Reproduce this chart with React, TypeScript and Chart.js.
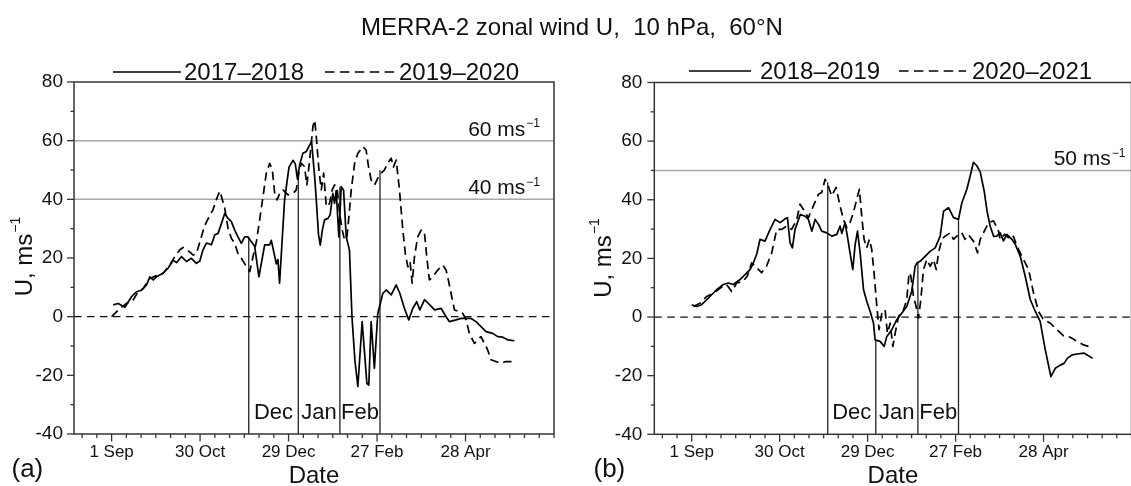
import React, { useEffect, useRef } from 'react';
import { Chart, registerables } from 'chart.js';

Chart.register(...registerables);

const FONT = '"Liberation Sans", Arial, Helvetica, sans-serif';
Chart.defaults.font.family = FONT;

type Pt = [number, number];

// ---------- shared axis data (x = days since 1 September) ----------
const chartTitle = 'MERRA-2 zonal wind U,  10 hPa,  60°N';
const xTickDays = [0, 60, 120, 180, 240];
const xTickLabels = ['1 Sep', '30 Oct', '29 Dec', '27 Feb', '28 Apr'];
const yTickValues = [-40, -20, 0, 20, 40, 60, 80];
const monthNames = ['Dec', 'Jan', 'Feb'];
const xAxisTitle = 'Date';
const yAxisTitle = 'U, ms';
const unitSup = '−1';

// ---------- panel (a) ----------
const aSolidLabel = '2017–2018';
const aSolid: Pt[] = [
  [1.1, 4], [4.5, 4.5], [9, 3.2], [13.5, 6.8], [16.9, 8.5], [20.3, 9], [23.7, 10.8], [25.9, 13.6],
  [28.2, 12.5], [30.4, 13.6], [34.9, 14.8], [38.3, 16.5], [41.7, 19.3], [44, 18.4], [47.4, 20.5],
  [50.8, 18.8], [54.1, 19.9], [57.5, 18.2], [59.8, 19], [62, 22.8], [64.3, 25.1], [67.7, 24.5],
  [70, 27.9], [72.2, 28.4], [74.5, 31.8], [76.7, 35.2], [79, 33.5], [81.2, 32.4], [83.5, 29.5],
  [85.7, 27.2], [88, 25], [90.2, 27.2], [92.5, 27.2], [94.8, 25.5], [97, 24], [99.9, 13.6],
  [103.8, 24.5], [107.2, 24.5], [108.3, 26], [111.7, 18], [112.8, 19.5], [113.9, 11.4],
  [117.3, 39.8], [120.3, 51], [123, 53.3], [124.6, 52], [126, 47], [127.5, 51.7], [129.7, 55.7],
  [132, 56.3], [134.3, 58.5], [135.6, 59.7], [137.7, 47.6], [138.8, 39.8], [140.3, 28],
  [141.5, 24.4], [142.9, 29.5], [144.4, 33], [146.7, 33.5], [148.2, 34.7], [150, 42], [151.2, 38.6],
  [152.3, 43], [154.1, 27.2], [155.7, 44.3], [157.3, 43.2], [159.1, 27.2], [160.2, 25], [161.3, 22.7],
  [163, 0], [165, -15], [167, -23.8], [169.9, -1.7], [173.1, -22.7], [174.4, -23.3], [176, -1.7],
  [178.2, -17.6], [180.5, 1.1], [183.9, 7.9], [186.2, 9.1], [189.6, 7.4], [193, 10.8], [195.5, 7.9],
  [198.6, 2.8], [201.5, -1.1], [204.2, 2.8], [206.9, 5.1], [209, 2.3], [212.2, 5.8], [215.6, 4.1],
  [219, 2.3], [223.5, 2.8], [226.8, 0], [229.1, -1.7], [233.6, -1.1], [237, -0.6], [240.4, -0.6],
  [243.8, -0.6], [247.1, -1.7], [250.5, -3.4], [253.9, -5.1], [258.4, -5.7], [261.8, -6.8],
  [265.2, -7], [268.6, -7.9], [273.1, -8.2],
];
const aDashLabel = '2019–2020';
const aDash: Pt[] = [
  [0, 0], [2.3, 1.1], [5.6, 2.8], [10.1, 4.5], [14.6, 5.7], [18, 8.5], [21.4, 9.6], [25.9, 13],
  [30.4, 14], [34.9, 14.8], [39.5, 17.6], [42.9, 20.5], [46.3, 22.8], [48.5, 23.6], [53, 22.1],
  [55.3, 21], [57.5, 21.5], [59.8, 25.4], [63.2, 31.2], [66.6, 34.5], [68.8, 36.5], [71.1, 40],
  [73.3, 42.8], [74.5, 41], [76.7, 37], [79, 30], [81.2, 26.7], [83.5, 25], [85.7, 21.5], [88, 19.9],
  [91.4, 17.1], [93.7, 15.4], [95.9, 20.5], [98.2, 25.6], [100.4, 33], [102.7, 41], [104.9, 48.9],
  [107.2, 52.3], [109, 50], [110.6, 42], [112.2, 39.8], [114, 42], [116.2, 43.2], [119.6, 41.5],
  [123, 42], [125.2, 43.2], [127, 48.9], [128.6, 52.3], [130.8, 51.2], [132.4, 44.9], [134.3, 53.4],
  [136.5, 64.8], [137.7, 67], [138.8, 61.4], [140.6, 50], [142.2, 43.2], [143.8, 48.9], [145.6, 37.5],
  [147.8, 38.6], [149.6, 43.2], [151.2, 44.9], [152.8, 44.3], [154.6, 35.2], [156.4, 29.5], [158, 26.1],
  [159.6, 27.2], [160.9, 34], [162.5, 43.2], [164.8, 52.3], [167, 55.7], [170.4, 58], [172.6, 56.8],
  [174.2, 51.2], [176, 46.6], [178.3, 44.9], [180.5, 47.2], [182.8, 48.9], [185, 50], [187.3, 52.3],
  [189.6, 54], [191.1, 51], [193, 53.4], [195.2, 43.2], [197.5, 29.5], [199.3, 21], [200.9, 17],
  [202.4, 18.8], [203.8, 11.4], [205.4, 20.5], [207.6, 27.2], [209.9, 29.5], [212.1, 28.9],
  [213.8, 20], [215.5, 12.5], [217.8, 13.6], [221.2, 15.9], [224.5, 17.6], [226.8, 15.9], [227.9, 13.6],
  [230.2, 7.9], [232.5, 2.3], [235.8, 1.7], [238.1, 1.1], [240.4, -1.1], [242.6, -5.7], [246, -9.1],
  [248.3, -7.9], [250.5, -6.8], [252.8, -9.1], [255, -11.3], [257.2, -14.7], [260.6, -15.3],
  [264, -15.9], [267.3, -15.3], [273, -15.3],
];
const aMonthLineDays = [93, 126.6, 154.8, 182];
const aMonthLineTops = [27, 50, 44.3, 50];
const aRefLines = [60, 40];

// ---------- panel (b) ----------
const bSolidLabel = '2018–2019';
const bSolid: Pt[] = [
  [0, 4.2], [3.4, 3.6], [6.8, 4.2], [10.2, 5.9], [13.6, 7.6], [17, 9.3], [21.6, 11.1], [25, 11.6],
  [28.4, 11.1], [33, 12.8], [36.4, 14.5], [39.8, 16.2], [42.1, 18.5], [44.4, 21.5], [46.6, 26.5],
  [50, 25.9], [53.5, 29.9], [56.9, 33.3], [60.3, 32.2], [63.7, 33.5], [65.3, 33.9], [67.1, 25.4],
  [68.7, 23.6], [70.5, 29.9], [74.1, 35], [77.4, 34.4], [79.6, 33.3], [82, 29.3], [84.2, 33.3],
  [86.5, 31.6], [88.7, 29.3], [92.1, 28.7], [95.6, 27.6], [99, 28.2], [101.2, 31], [102.4, 28.5],
  [104.6, 32.2], [106.2, 27.6], [108, 21.9], [109.9, 16.2], [111.5, 24.7], [113.1, 29.3], [114.9, 21.9],
  [117.2, 9.4], [119.4, 5.4], [121.7, 2], [124, -2], [125.1, -7.8], [128.5, -8.3], [131.3, -10],
  [133.1, -6.6], [136.5, -4.3], [139.9, -0.9], [143.3, 1.3], [146.7, 3.6], [150.1, 8.8], [152.4, 17.3],
  [153.6, 18.4], [155.8, 19], [159.2, 20.7], [162.6, 22.4], [166.1, 23.6], [169.5, 27.6], [171.8, 36.1],
  [175.2, 37.3], [178.6, 33.9], [182, 33.3], [184.3, 39], [187.7, 43.6], [190, 48.2], [192.2, 52.8],
  [194.5, 51.6], [196.8, 49.5], [199.5, 43], [201.5, 36], [203.6, 31], [206, 27.5], [208.1, 27.6],
  [210.4, 28.7], [212.7, 26], [215, 28.2], [218.4, 26.5], [220.7, 24.8], [224.1, 20.8], [227.5, 13.9],
  [231, 5.9], [234.4, 1.9], [237.7, -1.5], [241.2, -11.2], [245, -20.3], [248, -17.5], [251.4, -16.4],
  [254, -15.8], [256.2, -14.1], [259.5, -12.9], [263, -12.6], [267.5, -12.3], [270, -13], [273.5, -14.1],
];
const bDashLabel = '2020–2021';
const bDash: Pt[] = [
  [1.1, 3.6], [5.7, 4.7], [10.2, 7], [14.8, 8.1], [19.3, 9.8], [23.8, 11.1], [27.3, 8.7], [30.7, 11.6],
  [35.2, 12.2], [38, 14], [40.9, 18.5], [44.4, 16.8], [47.7, 15.1], [51.1, 17.4], [54.6, 21.9],
  [58, 29.9], [61.4, 29.9], [64.8, 31], [68.2, 29.9], [71.7, 33.3], [73.9, 38.5], [76.2, 36.7],
  [79.6, 33.9], [83, 37.9], [86.5, 41.9], [88.7, 42.5], [91, 47], [93.2, 44.7], [95.5, 41.3],
  [98.5, 44.2], [101.2, 37.9], [103.5, 33.3], [105.8, 30.5], [108, 32.2], [110.3, 35.6], [112.6, 40.2],
  [114.4, 43.6], [116, 34.4], [117.6, 26.5], [119.4, 23.6], [121.2, 26.5], [122.8, 23.1], [124.4, 15.1],
  [126.3, 3.6], [127.8, -4.3], [129.7, 1.3], [131.9, 2.5], [133.5, -5.5], [135.4, -2.1], [137.2, -10],
  [138.8, -5.5], [141.1, 0.2], [144.5, 2.5], [146.7, 5.9], [148.3, 15.1], [149.5, 14], [151.3, 7],
  [153.1, 3.6], [154.7, -0.4], [156.3, 5.9], [158.1, 16.2], [160.4, 19.6], [162.7, 17.3], [164.9, 19.6],
  [166.8, 16.2], [168.4, 21.9], [170.6, 26.5], [172.9, 27.6], [176.3, 28.7], [178.6, 26.5], [182, 28.2],
  [184.3, 28.7], [186.5, 26.5], [188.8, 28], [192.2, 25.9], [195, 21.9], [196.8, 26.5], [199, 28.7],
  [202.5, 32.2], [205.9, 32.8], [209.3, 29.3], [210.4, 26.5], [213.5, 28.2], [217.2, 26.5], [219.5, 27.5],
  [221.8, 24.2], [224.1, 21.9], [226.4, 19.6], [229.8, 16.2], [233.2, 8.2], [236.6, 1.9], [240, -0.9],
  [244.6, -2.1], [249.1, -4.3], [253.7, -6.4], [258.2, -6.9], [262.8, -8.3], [267.3, -9.5], [270.7, -10],
  [271.9, -10.3],
];
const bMonthLineDays = [92.8, 125.6, 154.3, 182];
const bMonthLineTops = [46, -8, 18.5, 33];
const bRefLines = [50];

// ---------- layout / style (pixels) ----------
interface PanelData {
  solid: Pt[]; dash: Pt[]; solidLabel: string; dashLabel: string;
  monthDays: number[]; monthTops: number[]; refLines: number[]; letter: string;
}
interface PanelStyle {
  canvasWidth: number;
  padding: { left: number; top: number; right: number; bottom: number };
  yAxisWidth: number; xAxisHeight: number; yLabelPad: number;
  legendLineY: number; legendTextY: number;
  solidSample: [number, number]; solidTextX: number;
  dashSample: [number, number]; dashTextX: number;
  yTitleX: number; yTitleY: number; letterX: number; refInset: number;
  drawTitle: boolean;
}

const panelA: PanelData = {
  solid: aSolid, dash: aDash, solidLabel: aSolidLabel, dashLabel: aDashLabel,
  monthDays: aMonthLineDays, monthTops: aMonthLineTops, refLines: aRefLines, letter: '(a)',
};
const panelB: PanelData = {
  solid: bSolid, dash: bDash, solidLabel: bSolidLabel, dashLabel: bDashLabel,
  monthDays: bMonthLineDays, monthTops: bMonthLineTops, refLines: bRefLines, letter: '(b)',
};

const styleA: PanelStyle = {
  canvasWidth: 1131,
  padding: { left: 0, top: 82, right: 577, bottom: 0 },
  yAxisWidth: 74, xAxisHeight: 52, yLabelPad: 11,
  legendLineY: 72, legendTextY: 79.5,
  solidSample: [113, 181], solidTextX: 184,
  dashSample: [325, 394], dashTextX: 399,
  yTitleX: 31.7, yTitleY: 256.5, letterX: 11.5, refInset: 14, drawTitle: true,
};
const styleB: PanelStyle = {
  canvasWidth: 1136,
  padding: { left: 564.3, top: 82.5, right: 4.5, bottom: 0 },
  yAxisWidth: 90, xAxisHeight: 51.7, yLabelPad: 12,
  legendLineY: 71, legendTextY: 79,
  solidSample: [689, 751], solidTextX: 760,
  dashSample: [899, 966], dashTextX: 972,
  yTitleX: 611, yTitleY: 258, letterX: 593.5, refInset: 6, drawTitle: false,
};

const X_MIN = -25.5;
const X_MAX = 300;
const Y_MIN = -40;
const Y_MAX = 80;
const DASH = [8.5, 5];
const FRAME = '#353535';

function supText(
  ctx: CanvasRenderingContext2D, main: string, sup: string, x: number, y: number,
  size: number, supSize: number, raise: number, align: 'left' | 'right' | 'center',
) {
  ctx.font = `${size}px ${FONT}`;
  const w1 = ctx.measureText(main).width;
  ctx.font = `${supSize}px ${FONT}`;
  const w2 = ctx.measureText(sup).width;
  const gap = 1;
  const total = w1 + gap + w2;
  const sx = align === 'right' ? x - total : align === 'center' ? x - total / 2 : x;
  ctx.textAlign = 'left';
  ctx.textBaseline = 'alphabetic';
  ctx.font = `${size}px ${FONT}`;
  ctx.fillText(main, sx, y);
  ctx.font = `${supSize}px ${FONT}`;
  ctx.fillText(sup, sx + w1 + gap, y - raise);
}

function line(ctx: CanvasRenderingContext2D, x1: number, y1: number, x2: number, y2: number) {
  ctx.beginPath();
  ctx.moveTo(x1, y1);
  ctx.lineTo(x2, y2);
  ctx.stroke();
}

function makePlugin(p: PanelData, st: PanelStyle) {
  return {
    id: 'deco',
    beforeDatasetsDraw(chart: any) {
      const ctx: CanvasRenderingContext2D = chart.ctx;
      const { left, right, bottom } = chart.chartArea;
      const xs = chart.scales.x;
      const ys = chart.scales.y;
      ctx.save();
      ctx.strokeStyle = '#a8a8a8';
      ctx.lineWidth = 1.5;
      p.refLines.forEach((v) => {
        const y = ys.getPixelForValue(v);
        line(ctx, left, y, right, y);
      });
      ctx.strokeStyle = '#111';
      ctx.lineWidth = 1.3;
      ctx.setLineDash([7.5, 5.5]);
      const y0 = ys.getPixelForValue(0);
      line(ctx, left, y0, right, y0);
      ctx.setLineDash([]);
      ctx.strokeStyle = '#222';
      ctx.lineWidth = 1.3;
      p.monthDays.forEach((d, i) => {
        const x = xs.getPixelForValue(d);
        line(ctx, x, bottom, x, ys.getPixelForValue(p.monthTops[i]));
      });
      ctx.restore();
    },
    afterDraw(chart: any) {
      const ctx: CanvasRenderingContext2D = chart.ctx;
      const { left, right, top, bottom } = chart.chartArea;
      const xs = chart.scales.x;
      const ys = chart.scales.y;
      ctx.save();
      // frame
      ctx.strokeStyle = FRAME;
      ctx.lineWidth = 1.5;
      ctx.strokeRect(left, top, right - left, bottom - top);
      // tick marks
      ctx.lineWidth = 1.3;
      for (let v = Y_MIN; v <= Y_MAX; v += 10) {
        const y = ys.getPixelForValue(v);
        const len = yTickValues.includes(v) ? 7 : 3.5;
        line(ctx, left - len, y, left, y);
      }
      for (let d = -20; d <= X_MAX; d += 10) {
        const x = xs.getPixelForValue(d);
        const len = xTickDays.includes(d) ? 7.5 : 4;
        line(ctx, x, bottom, x, bottom + len);
      }
      ctx.fillStyle = '#111';
      // chart title
      if (st.drawTitle) {
        ctx.font = `24px ${FONT}`;
        ctx.textAlign = 'center';
        ctx.textBaseline = 'alphabetic';
        ctx.fillText(chartTitle, 572, 35);
      }
      // legend
      ctx.strokeStyle = '#000';
      ctx.lineWidth = 1.6;
      line(ctx, st.solidSample[0], st.legendLineY, st.solidSample[1], st.legendLineY);
      ctx.setLineDash([9.5, 5.4]);
      line(ctx, st.dashSample[0], st.legendLineY, st.dashSample[1], st.legendLineY);
      ctx.setLineDash([]);
      ctx.font = `24px ${FONT}`;
      ctx.textAlign = 'left';
      ctx.textBaseline = 'alphabetic';
      ctx.fillText(p.solidLabel, st.solidTextX, st.legendTextY);
      ctx.fillText(p.dashLabel, st.dashTextX, st.legendTextY);
      // reference line labels
      p.refLines.forEach((v) => {
        supText(ctx, `${v} ms`, unitSup, right - st.refInset, ys.getPixelForValue(v) - 5, 21, 12, 8.5, 'right');
      });
      // month labels
      ctx.font = `22px ${FONT}`;
      ctx.textAlign = 'center';
      ctx.textBaseline = 'alphabetic';
      monthNames.forEach((m, i) => {
        const x1 = xs.getPixelForValue(p.monthDays[i]);
        const x2 = xs.getPixelForValue(p.monthDays[i + 1]);
        ctx.fillText(m, (x1 + x2) / 2, bottom - 15);
      });
      // x title
      ctx.font = `24px ${FONT}`;
      ctx.fillText(xAxisTitle, (left + right) / 2, 483);
      // panel letter
      ctx.font = `26px ${FONT}`;
      ctx.textAlign = 'left';
      ctx.fillText(p.letter, st.letterX, 476.5);
      // y title (rotated)
      ctx.save();
      ctx.translate(st.yTitleX, st.yTitleY);
      ctx.rotate(-Math.PI / 2);
      supText(ctx, yAxisTitle, unitSup, 0, 0, 24, 14, 12, 'center');
      ctx.restore();
      ctx.restore();
    },
  };
}

function buildConfig(p: PanelData, st: PanelStyle): any {
  return {
    type: 'line',
    data: {
      datasets: [
        {
          label: p.solidLabel,
          data: p.solid.map(([x, y]) => ({ x, y })),
          borderColor: '#000',
          borderWidth: 1.7,
          pointRadius: 0,
          tension: 0,
          fill: false,
          borderJoinStyle: 'round',
        },
        {
          label: p.dashLabel,
          data: p.dash.map(([x, y]) => ({ x, y })),
          borderColor: '#000',
          borderWidth: 1.7,
          borderDash: DASH,
          pointRadius: 0,
          tension: 0,
          fill: false,
          borderJoinStyle: 'round',
        },
      ],
    },
    options: {
      responsive: false,
      maintainAspectRatio: false,
      animation: false,
      devicePixelRatio: 1,
      events: [],
      layout: { padding: st.padding },
      plugins: { legend: { display: false }, tooltip: { enabled: false }, title: { display: false } },
      scales: {
        x: {
          type: 'linear',
          min: X_MIN,
          max: X_MAX,
          bounds: 'data',
          afterBuildTicks: (s: any) => { s.ticks = xTickDays.map((v) => ({ value: v })); },
          afterFit: (s: any) => { s.height = st.xAxisHeight; },
          grid: { display: false, drawTicks: false },
          border: { display: false },
          ticks: {
            autoSkip: false,
            maxRotation: 0,
            minRotation: 0,
            padding: 8,
            color: '#111',
            font: { size: 17, family: FONT },
            callback: (_v: any, i: number) => xTickLabels[i] ?? '',
          },
        },
        y: {
          type: 'linear',
          min: Y_MIN,
          max: Y_MAX,
          bounds: 'data',
          afterBuildTicks: (s: any) => { s.ticks = yTickValues.map((v) => ({ value: v })); },
          afterFit: (s: any) => { s.width = st.yAxisWidth; },
          grid: { display: false, drawTicks: false },
          border: { display: false },
          ticks: {
            padding: st.yLabelPad,
            color: '#111',
            font: { size: 19, family: FONT },
            callback: (v: any) => String(v),
          },
        },
      },
    },
    plugins: [makePlugin(p, st)],
  };
}

export default function App() {
  const refA = useRef<HTMLCanvasElement>(null);
  const refB = useRef<HTMLCanvasElement>(null);
  useEffect(() => {
    const ca = new Chart(refA.current as HTMLCanvasElement, buildConfig(panelA, styleA));
    const cb = new Chart(refB.current as HTMLCanvasElement, buildConfig(panelB, styleB));
    return () => {
      ca.destroy();
      cb.destroy();
    };
  }, []);
  return (
    <div style={{ position: 'absolute', left: 0, top: 0, width: 1131, height: 486, overflow: 'hidden', background: '#fff' }}>
      <canvas ref={refA} width={styleA.canvasWidth} height={486}
        style={{ position: 'absolute', left: 0, top: 0, width: styleA.canvasWidth, height: 486 }} />
      <canvas ref={refB} width={styleB.canvasWidth} height={486}
        style={{ position: 'absolute', left: 0, top: 0, width: styleB.canvasWidth, height: 486 }} />
    </div>
  );
}
